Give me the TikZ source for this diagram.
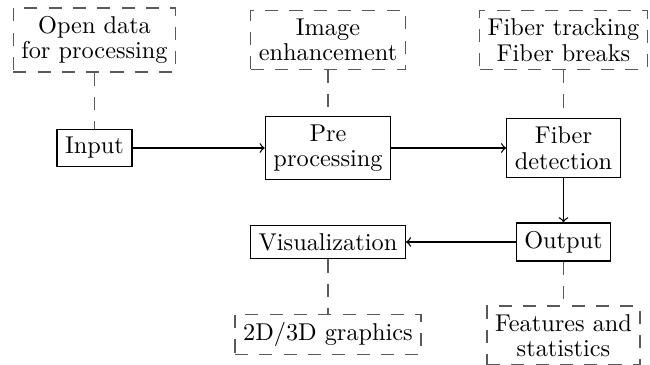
\documentclass[tikz,border=0pt]{standalone}
\usetikzlibrary{arrows}
\begin{document}
\begin{tikzpicture}[x=0.4115pt,y=-0.4115pt, line width=0.55pt,
  box/.style={draw, align=center, font=\fontsize{10}{10.5}\selectfont},
  dbox/.style={draw=black!65, dash pattern=on 5.4pt off 4.6pt, align=center, font=\fontsize{10}{10.5}\selectfont},
  dline/.style={draw=black!65, dash pattern=on 5.4pt off 4.6pt},
  arr/.style={->}]
\useasboundingbox (0,0) rectangle (650,364);
% top row
\node[dbox] (open) at (94.5,40) {Open data\\for processing};
\node[dbox] (enh) at (328,40) {Image\\enhancement};
\node[dbox] (track) at (563.5,40) {Fiber tracking\\Fiber breaks};
% middle row
\node[box] (input) at (94.5,148) {Input};
\node[box] (pre) at (328,148) {Pre\\processing};
\node[box] (det) at (563.5,148) {Fiber\\detection};
% output row
\node[box] (vis) at (328,242) {Visualization};
\node[box] (out) at (563.5,242) {Output};
% bottom row
\node[dbox] (graph) at (328,334.5) {2D/3D graphics};
\node[dbox] (feat) at (563.5,335.5) {Features and\\statistics};
% dashed links
\draw[dline] (open) -- (input);
\draw[dline] (enh) -- (pre);
\draw[dline] (track) -- (det);
\draw[dline] (vis) -- (graph);
\draw[dline] (out) -- (feat);
% arrows
\draw[arr] (input) -- (pre);
\draw[arr] (pre) -- (det);
\draw[arr] (det) -- (out);
\draw[arr] (out) -- (vis);
\end{tikzpicture}
\end{document}
